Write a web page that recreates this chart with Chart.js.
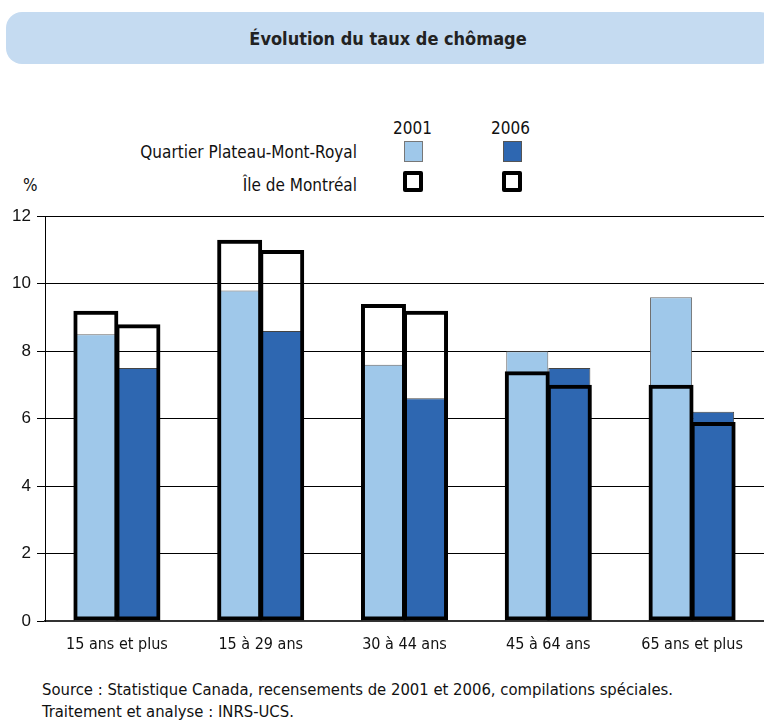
<!DOCTYPE html>
<html><head><meta charset="utf-8">
<script src="https://cdn.jsdelivr.net/npm/chart.js@4.4.0/dist/chart.umd.min.js"></script>
<style>
html,body{margin:0;padding:0;background:#fff;width:764px;height:723px;overflow:hidden;position:relative;font-family:"DejaVu Sans Condensed","Liberation Sans Narrow",sans-serif;color:#111;}
#titlebox{position:absolute;left:6px;top:12px;width:770px;height:52px;background:#c5dbf1;border-radius:16px;}
#title{position:absolute;left:6px;top:28px;width:764px;text-align:center;font-size:18px;font-weight:bold;color:#222;}
.lt{position:absolute;font-size:17px;white-space:nowrap;}
.sq{position:absolute;box-sizing:border-box;}
#chartwrap{position:absolute;left:0;top:200px;width:764px;height:470px;}
.src{position:absolute;left:42px;font-size:16.5px;white-space:nowrap;}
</style></head>
<body>
<div id="titlebox"></div>
<div id="title">Évolution du taux de chômage</div>

<div class="lt" style="left:393px;top:118px;">2001</div>
<div class="lt" style="left:491px;top:118px;">2006</div>
<div class="lt" style="right:407px;top:142px;">Quartier Plateau-Mont-Royal</div>
<div class="lt" style="right:407px;top:175px;">Île de Montréal</div>
<div class="lt" style="left:23px;top:175px;">%</div>
<div class="sq" style="left:404px;top:141px;width:19px;height:21px;background:#9fc8ea;border:1px solid #777;"></div>
<div class="sq" style="left:503px;top:141px;width:19px;height:21px;background:#2e67b1;border:1px solid #555;"></div>
<div class="sq" style="left:403px;top:171px;width:20px;height:21px;background:#fff;border:4px solid #000;border-radius:2px;"></div>
<div class="sq" style="left:502px;top:171px;width:20px;height:21px;background:#fff;border:4px solid #000;border-radius:2px;"></div>

<div id="chartwrap"><canvas id="c" width="764" height="470"></canvas></div>

<div class="src" style="top:680px;">Source : Statistique Canada, recensements de 2001 et 2006, compilations spéciales.</div>
<div class="src" style="top:702px;">Traitement et analyse : INRS-UCS.</div>

<script>
const categories = ["15 ans et plus", "15 à 29 ans", "30 à 44 ans", "45 à 64 ans", "65 ans et plus"];
const plateau2001 = [8.5, 9.8, 7.6, 8.0, 9.6];
const plateau2006 = [7.5, 8.6, 6.6, 7.5, 6.2];
const montreal2001 = [9.2, 11.3, 9.4, 7.4, 7.0];
const montreal2006 = [8.8, 11.0, 9.2, 7.0, 5.9];
const yTicks = [0, 2, 4, 6, 8, 10, 12];

const LIGHT = "#9fc8ea", DARK = "#2e67b1";

new Chart(document.getElementById("c"), {
  type: "bar",
  data: {
    labels: categories,
    datasets: [
      { label: "Île de Montréal 2001", data: montreal2001, stack: "a", order: 0, barPercentage: 1.07,
        backgroundColor: "rgba(0,0,0,0)", borderColor: "#000", borderWidth: 4, borderSkipped: false },
      { label: "Île de Montréal 2006", data: montreal2006, stack: "b", order: 0, barPercentage: 1.07,
        backgroundColor: "rgba(0,0,0,0)", borderColor: "#000", borderWidth: 4, borderSkipped: false },
      { label: "Quartier Plateau-Mont-Royal 2001", data: plateau2001, stack: "a", order: 1, barPercentage: 1.0,
        backgroundColor: LIGHT, borderColor: "#666", borderWidth: 1, borderSkipped: false },
      { label: "Quartier Plateau-Mont-Royal 2006", data: plateau2006, stack: "b", order: 1, barPercentage: 1.0,
        backgroundColor: DARK, borderColor: "#444", borderWidth: 1, borderSkipped: false }
    ]
  },
  options: {
    responsive: false,
    animation: false,
    layout: { padding: { top: 15, right: 0, bottom: 0, left: 0 } },
    plugins: { legend: { display: false }, tooltip: { enabled: false }, title: { display: false } },
    datasets: { bar: { categoryPercentage: 0.585 } },
    scales: {
      x: {
        stacked: true,
        grid: { display: false, drawTicks: false },
        border: { display: true, color: "#333", width: 2 },
        ticks: { color: "#111", padding: 14, font: { family: "'DejaVu Sans Condensed','Liberation Sans Narrow',sans-serif", size: 16 } },
        afterFit: s => { s.height = 49; }
      },
      y: {
        stacked: false,
        min: 0, max: 12,
        afterBuildTicks: s => { s.ticks = yTicks.map(v => ({ value: v })); },
        grid: { color: "#000", lineWidth: 1, tickLength: 8, drawTicks: true },
        border: { display: true, color: "#000", width: 1 },
        ticks: { color: "#111", padding: 6, font: { family: "'Liberation Sans',Arial,sans-serif", size: 17 } },
        afterFit: s => { s.width = 45; }
      }
    }
  }
});
</script>
</body></html>
